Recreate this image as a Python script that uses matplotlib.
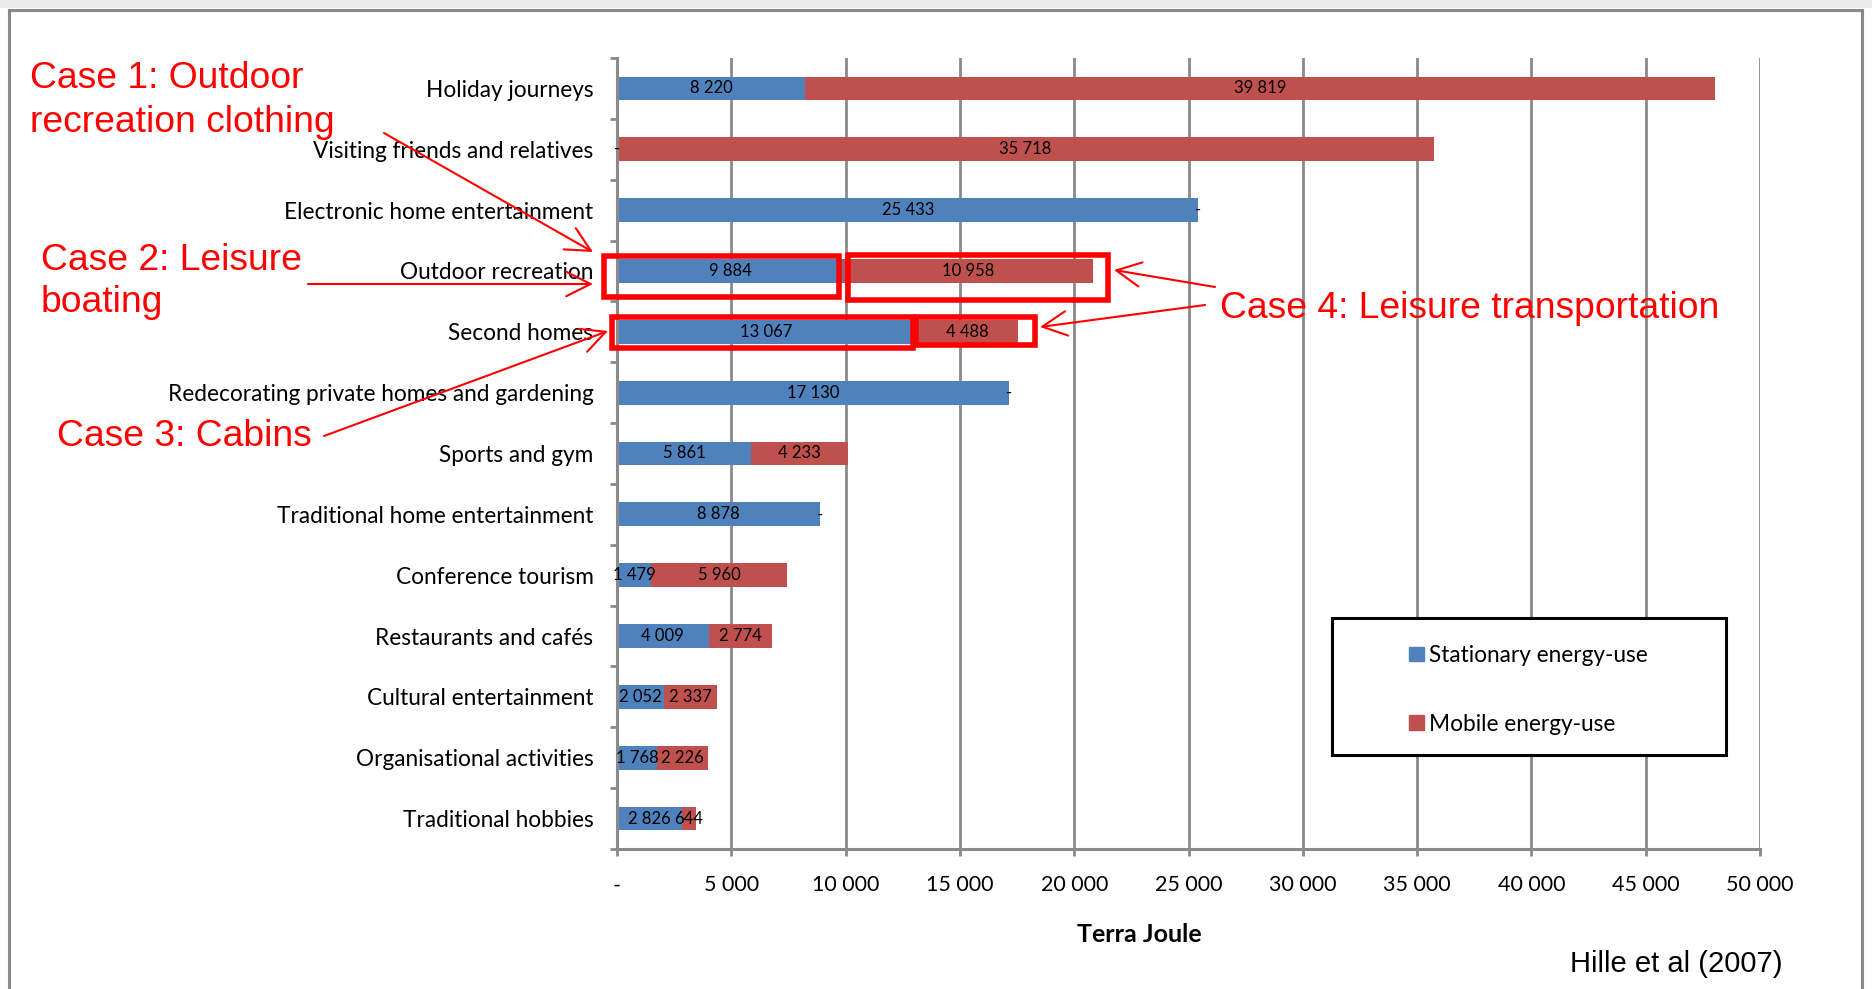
import numpy as np
import matplotlib
matplotlib.use("Agg")
import matplotlib.pyplot as plt
from matplotlib.patches import Rectangle, FancyArrowPatch
from matplotlib.lines import Line2D
from matplotlib.transforms import Affine2D

plt.rcParams['font.family'] = ['Lato', 'DejaVu Sans']

categories = ["Holiday journeys", "Visiting friends and relatives",
              "Electronic home entertainment", "Outdoor recreation",
              "Second homes", "Redecorating private homes and gardening",
              "Sports and gym", "Traditional home entertainment",
              "Conference tourism", "Restaurants and cafés",
              "Cultural entertainment", "Organisational activities",
              "Traditional hobbies"]
stationary = [8220, 0, 25433, 9884, 13067, 17130, 5861, 8878, 1479, 4009, 2052, 1768, 2826]
mobile = [39819, 35718, 0, 10958, 4488, 0, 4233, 0, 5960, 2774, 2337, 2226, 644]
x_ticks = [0, 5000, 10000, 15000, 20000, 25000, 30000, 35000, 40000, 45000, 50000]

BLUE = '#4f81bd'
RED = '#c0504d'
GRID = '#8a8a8a'
ANN = '#ff0000'

W, H = 1872, 989
fig = plt.figure(figsize=(W / 100, H / 100), dpi=100)
# pixel coords (origin top-left) -> figure
px = Affine2D().scale(1 / W, -1 / H).translate(0, 1) + fig.transFigure


def fmt(v):
    return "-" if v == 0 else f"{v:,}".replace(",", " ")


ax = fig.add_axes([617 / W, (H - 849) / H, (1760 - 617) / W, (849 - 58) / H])
y = np.arange(len(categories))
ax.barh(y, stationary, height=0.39, color=BLUE, zorder=2)
ax.barh(y, mobile, height=0.39, left=stationary, color=RED, zorder=2)

for i in range(len(categories)):
    s, m = stationary[i], mobile[i]
    ax.text(s / 2, i, fmt(s), ha='center', va='center', fontsize=12, zorder=4)
    ax.text(s + m / 2, i, fmt(m), ha='center', va='center', fontsize=12, zorder=4)

ax.set_xlim(0, 50000)
ax.set_ylim(len(categories) - 0.5, -0.5)

for side in ['top', 'right']:
    ax.spines[side].set_visible(False)
for side in ['left', 'bottom']:
    ax.spines[side].set_color(GRID)
    ax.spines[side].set_linewidth(2.2)

ax.set_axisbelow(True)
ax.xaxis.grid(True, color=GRID, linewidth=2.0)

ax.set_xticks(x_ticks)
ax.set_xticklabels([fmt(v) for v in x_ticks], fontsize=15.5)
ax.tick_params(axis='x', length=5, width=2, color=GRID, pad=14)

ax.set_yticks(y)
ax.set_yticklabels(categories, fontsize=16.3)
ax.tick_params(axis='y', which='major', length=0, pad=17)
ax.set_yticks(np.arange(-0.5, len(categories)), minor=True)
ax.tick_params(axis='y', which='minor', length=5, width=2, color=GRID)

fig.text(1139, 935, "Terra Joule", transform=px, fontsize=18, fontweight='bold',
         ha='center', va='center')

# legend box
fig.add_artist(Rectangle((1332, 618), 394, 137, transform=px, facecolor='white',
                         edgecolor='black', linewidth=2.2, zorder=5))
leg = fig.legend(handles=[Rectangle((0, 0), 1, 1, color=BLUE), Rectangle((0, 0), 1, 1, color=RED)],
                 labels=["Stationary energy-use", "Mobile energy-use"],
                 loc='upper left', bbox_to_anchor=(1409, 645), bbox_transform=px,
                 frameon=False, fontsize=16.3, handlelength=0.68, handleheight=0.6,
                 handletextpad=0.22, labelspacing=2.1, borderpad=0, borderaxespad=0)
leg.set_zorder(6)

# highlight boxes (data coords)
boxes = [(-547, 9730, 2.76, 3.42), (10124, 21493, 2.73, 3.48),
         (-197, 12966, 3.75, 4.26), (13067, 18271, 3.75, 4.22)]
for x0, x1, y0, y1 in boxes:
    ax.add_patch(Rectangle((x0, y0), x1 - x0, y1 - y0, fill=False, edgecolor=ANN,
                           linewidth=4, zorder=5, clip_on=False))

# outer frame
fig.add_artist(Rectangle((0, 0), W, 8, transform=px, facecolor='#ececec', edgecolor='none'))
for xs, ys in [((9, 1862), (10, 10)), ((9, 9), (10, 989)), ((1862, 1862), (10, 989))]:
    fig.add_artist(Line2D(xs, ys, transform=px, color=GRID, linewidth=2.2))

# case annotations
red_text = [(30, 78, "Case 1: Outdoor"), (30, 122, "recreation clothing"),
            (41, 260, "Case 2: Leisure"), (41, 302, "boating"),
            (57, 437, "Case 3: Cabins"), (1220, 309, "Case 4: Leisure transportation")]
for tx, ty, s in red_text:
    fig.text(tx, ty, s, transform=px, color=ANN, fontsize=26.8, family='Liberation Sans',
             ha='left', va='center')

arrows = [((384, 133), (593, 252)), ((308, 284), (593, 284)),
          ((324, 436), (608, 331)), ((1215, 287), (1114, 270)),
          ((1205, 305), (1040, 327))]
for a, b in arrows:
    fig.add_artist(FancyArrowPatch(a, b, transform=px, color=ANN, linewidth=1.5,
                                   arrowstyle='->, head_length=0.8, head_width=0.4',
                                   mutation_scale=22, shrinkA=0, shrinkB=0, zorder=7))

fig.text(1570, 964, "Hille et al (2007)", transform=px, fontsize=21,
         family='Liberation Sans', ha='left', va='center')

fig.savefig("out.png", dpi=100)
